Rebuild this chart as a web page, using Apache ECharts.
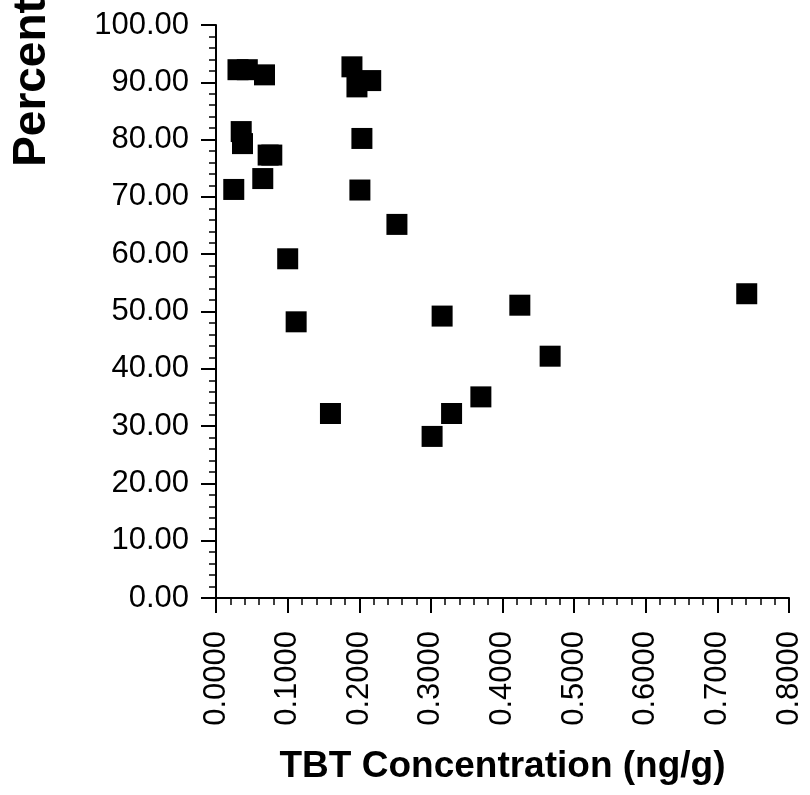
<!DOCTYPE html>
<html>
<head>
<meta charset="utf-8">
<script src="https://cdn.jsdelivr.net/npm/echarts@6/dist/echarts.min.js"></script>
<style>
html,body{margin:0;padding:0;background:#fff;}
#chart{width:810px;height:795px;}
</style>
</head>
<body>
<div id="chart"></div>
<script>
// TBT concentration (ng/g)
const tbtConcentration = [
  0.0307, 0.0437, 0.0677, 0.1898, 0.1968, 0.2160,
  0.0352, 0.0370, 0.0728, 0.0779, 0.0653, 0.0248,
  0.2037, 0.2009, 0.2526, 0.1001, 0.1119, 0.1598,
  0.3157, 0.4242, 0.4665, 0.3698, 0.3289, 0.3017, 0.7410
];
// Percent
const percentValues = [
  92.2, 92.2, 91.3, 92.7, 89.2, 90.3,
  81.4, 79.3, 77.3, 77.3, 73.2, 71.3,
  80.2, 71.2, 65.2, 59.2, 48.2, 32.2,
  49.2, 51.1, 42.2, 35.1, 32.2, 28.2, 53.1
];
const xAxisTitle = 'TBT Concentration (ng/g)';
const yAxisTitle = 'Percent';

const points = tbtConcentration.map((x, i) => [x, percentValues[i]]);

const chart = echarts.init(document.getElementById('chart'), null, {renderer: 'canvas'});
const axisColor = '#000';
chart.setOption({
  backgroundColor: '#fff',
  animation: false,
  grid: {left: 216, right: 21, top: 25, bottom: 197, containLabel: false, outerBoundsMode: 'none'},
  xAxis: {
    type: 'value',
    min: 0, max: 0.8, interval: 0.1,
    name: xAxisTitle,
    nameLocation: 'middle',
    nameGap: 150,
    nameMoveOverlap: false,
    nameTextStyle: {fontFamily: 'Liberation Sans, Arial, sans-serif', fontWeight: 'bold', fontSize: 37, color: '#000'},
    axisLine: {show: true, onZero: false, lineStyle: {color: axisColor, width: 2}},
    axisTick: {show: true, length: 15, lineStyle: {color: axisColor, width: 2}},
    minorTick: {show: true, splitNumber: 5, length: 7, lineStyle: {color: axisColor, width: 1.5}},
    splitLine: {show: false},
    minorSplitLine: {show: false},
    axisLabel: {
      rotate: 90, margin: 33,
      fontFamily: 'Liberation Sans, Arial, sans-serif', fontSize: 31, color: '#000',
      formatter: v => v.toFixed(4)
    }
  },
  yAxis: {
    type: 'value',
    min: 0, max: 100, interval: 10,
    name: yAxisTitle,
    nameLocation: 'middle',
    nameGap: 161,
    nameMoveOverlap: false,
    nameRotate: 90,
    nameTextStyle: {fontFamily: 'Liberation Sans, Arial, sans-serif', fontWeight: 'bold', fontSize: 46, color: '#000', padding: [0, 0, 0, 458]},
    axisLine: {show: true, onZero: false, lineStyle: {color: axisColor, width: 2}},
    axisTick: {show: true, length: 15, lineStyle: {color: axisColor, width: 2}},
    minorTick: {show: true, splitNumber: 5, length: 7, lineStyle: {color: axisColor, width: 1.5}},
    splitLine: {show: false},
    minorSplitLine: {show: false},
    axisLabel: {
      margin: 27,
      fontFamily: 'Liberation Sans, Arial, sans-serif', fontSize: 31, color: '#000',
      formatter: v => v.toFixed(2)
    }
  },
  series: [{
    type: 'scatter',
    data: points,
    symbol: 'rect',
    symbolSize: 21,
    itemStyle: {color: '#000', opacity: 1}
  }]
});
</script>
</body>
</html>
